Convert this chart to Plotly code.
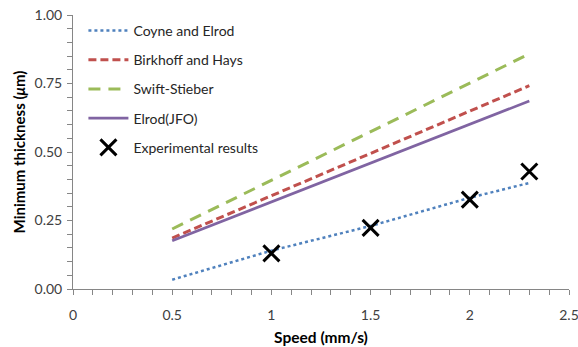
import plotly.graph_objects as go

# Data
speed_models = [0.5, 2.3]
coyne_x = [0.5, 1.0, 1.5, 2.0, 2.3]
coyne_y = [0.034, 0.140, 0.230, 0.333, 0.387]
birkhoff_y = [0.186, 0.742]
swift_y = [0.219, 0.858]
elrod_y = [0.176, 0.686]
exp_x = [1.0, 1.5, 2.0, 2.3]
exp_y = [0.130, 0.223, 0.326, 0.429]

x_ticks = [0, 0.5, 1, 1.5, 2, 2.5]
x_ticktext = ["0", "0.5", "1", "1.5", "2", "2.5"]
y_ticks = [0, 0.25, 0.5, 0.75, 1.0]
y_ticktext = ["0.00", "0.25", "0.50", "0.75", "1.00"]

FONT = "Lato"

fig = go.Figure()
fig.add_trace(go.Scatter(x=coyne_x, y=coyne_y, mode="lines", name="Coyne and Elrod",
                         legendgroup="a",
                         line=dict(color="#4F81BD", width=2.5, dash="dot")))
fig.add_trace(go.Scatter(x=speed_models, y=birkhoff_y, mode="lines", name="Birkhoff and Hays",
                         legendgroup="b",
                         line=dict(color="#C0504D", width=3, dash="8px,4px")))
fig.add_trace(go.Scatter(x=speed_models, y=swift_y, mode="lines", name="Swift-Stieber",
                         legendgroup="c",
                         line=dict(color="#9BBB59", width=3, dash="12px,8px")))
fig.add_trace(go.Scatter(x=speed_models, y=elrod_y, mode="lines", name="Elrod(JFO)",
                         legendgroup="d",
                         line=dict(color="#8064A2", width=2.75)))
fig.add_trace(go.Scatter(x=exp_x, y=exp_y, mode="markers", name="Experimental results",
                         legendgroup="e",
                         marker=dict(symbol="x-thin", size=16, color="black",
                                     line=dict(color="black", width=3))))

axis_common = dict(
    showgrid=False, zeroline=False, showline=True, linecolor="#868686", linewidth=1,
    ticks="outside", ticklen=5, tickcolor="#868686", tickwidth=1,
    tickfont=dict(family=FONT, size=14, color="#404040"),
    ticklabeloverflow="allow",
)

fig.update_xaxes(range=[0, 2.5], tickvals=x_ticks, ticktext=x_ticktext,
                 ticklabelstandoff=8,
                 minor=dict(dtick=0.1, ticks="outside", ticklen=5, tickcolor="#868686"),
                 title=dict(text="<b>Speed (mm/s)</b>", font=dict(family=FONT, size=15.5, color="black"),
                            standoff=10),
                 **axis_common)
fig.update_yaxes(range=[0, 1.0], tickvals=y_ticks, ticktext=y_ticktext,
                 ticklabelstandoff=2,
                 minor=dict(dtick=0.05, ticks="outside", ticklen=5, tickcolor="#868686"),
                 title=dict(text="<b>Minimum thickness (<i>μ</i>m)</b>",
                            font=dict(family=FONT, size=15, color="black"), standoff=5),
                 **axis_common)

fig.update_layout(
    width=578, height=347,
    margin=dict(l=73, r=9, t=15, b=58, autoexpand=False),
    paper_bgcolor="white", plot_bgcolor="white",
    font=dict(family=FONT, size=14, color="black"),
    legend=dict(x=0.021, y=1.0, xanchor="left", yanchor="top",
                bgcolor="rgba(0,0,0,0)", itemwidth=40, tracegroupgap=8,
                font=dict(family=FONT, size=14, color="#262626")),
)

fig.write_html("out.html", config={"displayModeBar": False},
               post_script="document.body.style.margin='0';document.body.style.overflow='hidden';")
